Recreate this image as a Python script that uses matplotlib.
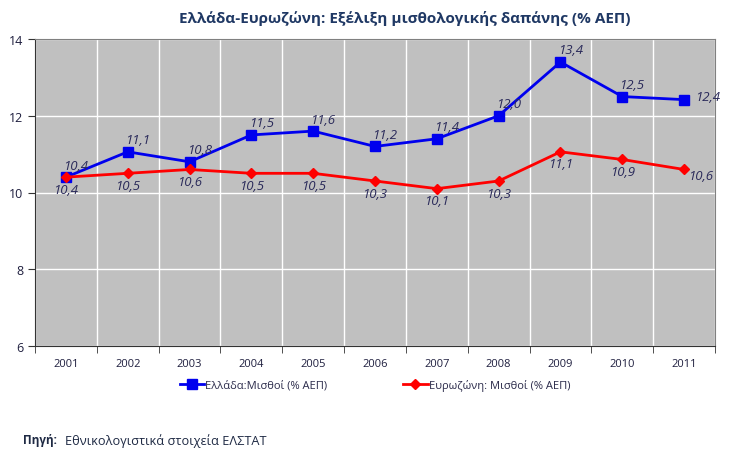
import matplotlib
matplotlib.use("Agg")
import matplotlib.pyplot as plt
import numpy as np

plt.rcParams['font.family'] = ['Open Sans', 'DejaVu Sans']

years = ['2001', '2002', '2003', '2004', '2005', '2006', '2007', '2008', '2009', '2010', '2011']
greece = [10.4, 11.06, 10.8, 11.5, 11.6, 11.2, 11.4, 12.0, 13.4, 12.5, 12.42]
eurozone = [10.4, 10.5, 10.6, 10.5, 10.5, 10.3, 10.1, 10.3, 11.06, 10.86, 10.6]
yticks = [6, 8, 10, 12, 14]

label_color = '#2a2a5a'
x = np.arange(len(years))

fig = plt.figure(figsize=(7.41, 4.56), dpi=100)
ax = fig.add_axes([35 / 741, 1 - 347 / 456, 680 / 741, 307 / 456])
ax.set_facecolor('#c0c0c0')

ax.plot(x, greece, color='#0000ee', lw=2, marker='s', ms=6.5, label='Ελλάδα:Μισθοί (% ΑΕΠ)', zorder=3)
ax.plot(x, eurozone, color='#ff0000', lw=2, marker='D', ms=5, label='Ευρωζώνη: Μισθοί (% ΑΕΠ)', zorder=3)

for i, v in enumerate(greece):
    txt = f"{v:.1f}".replace('.', ',')
    if i == len(years) - 1:
        ax.annotate(txt, (x[i], v), xytext=(8, 2), textcoords='offset points',
                    ha='left', va='center', style='italic', fontsize=9.5, color=label_color)
    else:
        ax.annotate(txt, (x[i], v), xytext=(7, 4), textcoords='offset points',
                    ha='center', va='bottom', style='italic', fontsize=9.5, color=label_color)

for i, v in enumerate(eurozone):
    txt = f"{v:.1f}".replace('.', ',')
    if i == len(years) - 1:
        ax.annotate(txt, (x[i], v), xytext=(12, -4), textcoords='offset points',
                    ha='center', va='center', style='italic', fontsize=9.5, color=label_color)
    else:
        ax.annotate(txt, (x[i], v), xytext=(0, -4), textcoords='offset points',
                    ha='center', va='top', style='italic', fontsize=9.5, color=label_color)

ax.set_xlim(-0.5, len(years) - 0.5)
ax.set_ylim(6, 14)
ax.set_yticks(yticks)
ax.set_xticks(x)
ax.set_xticklabels(years)
ax.set_xticks(np.arange(-0.5, len(years)), minor=True)
ax.tick_params(axis='x', which='major', length=0, pad=9, labelsize=8, labelcolor='#1f1f3f')
ax.tick_params(axis='x', which='minor', length=5, direction='out', color='#333333')
ax.tick_params(axis='y', length=5, direction='out', labelsize=9, labelcolor='#1f1f3f', color='#333333')
ax.grid(True, axis='y', which='major', color='white', lw=1)
ax.grid(True, axis='x', which='minor', color='white', lw=1)
ax.set_axisbelow(True)
for s in ['top', 'right']:
    ax.spines[s].set_color('#808080')
for s in ['left', 'bottom']:
    ax.spines[s].set_color('#333333')

fig.text(405 / 741, 1 - 18 / 456, 'Ελλάδα-Ευρωζώνη: Εξέλιξη μισθολογικής δαπάνης (% ΑΕΠ)',
         ha='center', va='center', fontsize=11, fontweight='bold', color='#1f3864')

fig.legend(loc='center', bbox_to_anchor=(375 / 741, 1 - 386 / 456), ncol=2, frameon=False,
           fontsize=8, columnspacing=6.8, handlelength=2.2, handletextpad=0.1,
           labelcolor='#2a2a4a')

fig.text(23 / 741, 1 - 441 / 456, 'Πηγή:', ha='left', va='center', fontsize=8.5,
         fontweight='bold', color='#1f2a44')
fig.text(65 / 741, 1 - 441 / 456, 'Εθνικολογιστικά στοιχεία ΕΛΣΤΑΤ', ha='left', va='center',
         fontsize=9.2, color='#1f2a44')

fig.savefig('out.png', dpi=100)
